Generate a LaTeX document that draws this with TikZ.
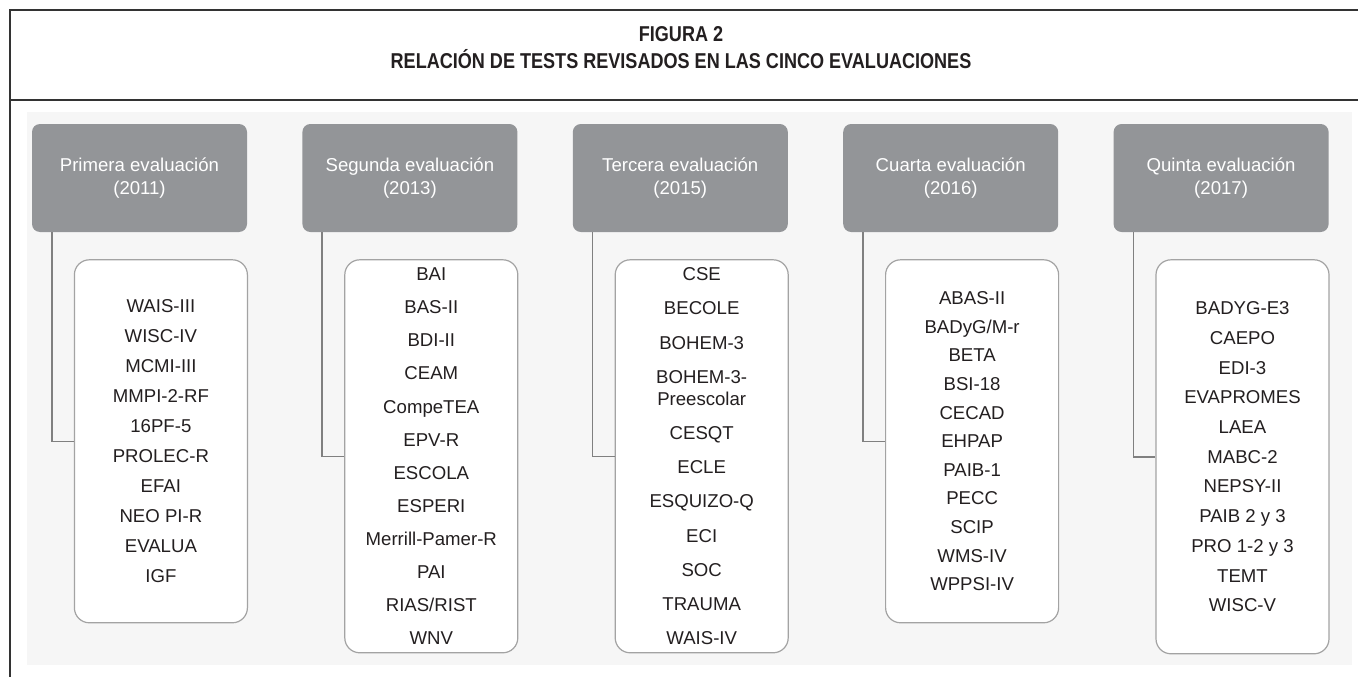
\documentclass[tikz,border=0pt]{standalone}
\usepackage{fontspec}
\setmainfont{Liberation Sans}
\newfontfamily\titlefont[FakeStretch=0.84]{Liberation Sans}
\usetikzlibrary{positioning}

\definecolor{boxgray}{HTML}{939598}
\definecolor{framegray}{HTML}{333333}
\definecolor{bordergray}{HTML}{A3A3A3}
\definecolor{linkgray}{HTML}{808080}
\definecolor{textdark}{HTML}{231F20}
\definecolor{backgray}{HTML}{F6F6F6}

\tikzset{
  evalbox/.style={fill=boxgray, rounded corners=8pt, text=white, minimum width=215pt,
    minimum height=108pt, inner sep=0pt, align=center, font=\fontsize{18.6}{23}\selectfont},
  testlist/.style={draw=bordergray, line width=1.2pt, fill=white, rounded corners=15pt,
    text=textdark, minimum width=173pt, inner sep=0pt, align=center,
    font=\fontsize{18.6}{#1}\selectfont},
  link/.style={linkgray, line width=1.5pt},
  frame/.style={framegray, line width=2.5pt}
}

\begin{document}
\begin{tikzpicture}[x=1pt,y=-1pt]
\useasboundingbox (0,0) rectangle (1358,677);
\fill[backgray] (27,112) rectangle (1352,665);
\draw[frame] (10,677) -- (10,10) -- (1358,10);
\draw[frame] (10,100) -- (1358,100);
\node[text=textdark, align=center, font=\titlefont\bfseries\fontsize{21.5}{27}\selectfont] (title) at (681,48)
  {FIGURA 2\\RELACIÓN DE TESTS REVISADOS EN LAS CINCO EVALUACIONES};

% evaluaciones
\node[evalbox] (e1) at (139.5,178) {Primera evaluación\\(2011)};
\node[evalbox, right=55pt of e1] (e2) {Segunda evaluación\\(2013)};
\node[evalbox, right=55pt of e2] (e3) {Tercera evaluación\\(2015)};
\node[evalbox, right=55pt of e3] (e4) {Cuarta evaluación\\(2016)};
\node[evalbox, right=55pt of e4] (e5) {Quinta evaluación\\(2017)};

% tests
\node[testlist=30, minimum height=363pt, below right=27pt and 42pt of e1.south west] (t1)
  {WAIS-III\\WISC-IV\\MCMI-III\\MMPI-2-RF\\16PF-5\\PROLEC-R\\EFAI\\NEO PI-R\\EVALUA\\IGF};
\node[testlist=33.1, minimum height=393pt, below right=27pt and 42pt of e2.south west] (t2)
  {BAI\\BAS-II\\BDI-II\\CEAM\\CompeTEA\\EPV-R\\ESCOLA\\ESPERI\\Merrill-Pamer-R\\PAI\\RIAS/RIST\\WNV};
\node[testlist=34.2, minimum height=393pt, below right=27pt and 42pt of e3.south west] (t3)
  {CSE\\BECOLE\\BOHEM-3\\BOHEM-3-\\[-12.2pt]Preescolar\\CESQT\\ECLE\\ESQUIZO-Q\\ECI\\SOC\\TRAUMA\\WAIS-IV};
\node[testlist=28.6, minimum height=363pt, below right=27pt and 42pt of e4.south west] (t4)
  {ABAS-II\\BADyG/M-r\\BETA\\BSI-18\\CECAD\\EHPAP\\PAIB-1\\PECC\\SCIP\\WMS-IV\\WPPSI-IV};
\node[testlist=29.7, minimum height=394pt, below right=27pt and 42pt of e5.south west] (t5)
  {BADYG-E3\\CAEPO\\EDI-3\\EVAPROMES\\LAEA\\MABC-2\\NEPSY-II\\PAIB 2 y 3\\PRO 1-2 y 3\\TEMT\\WISC-V};

\foreach \i in {1,...,5}
  \draw[link] ([xshift=20pt]e\i.south west) |- (t\i.west);
\end{tikzpicture}
\end{document}
